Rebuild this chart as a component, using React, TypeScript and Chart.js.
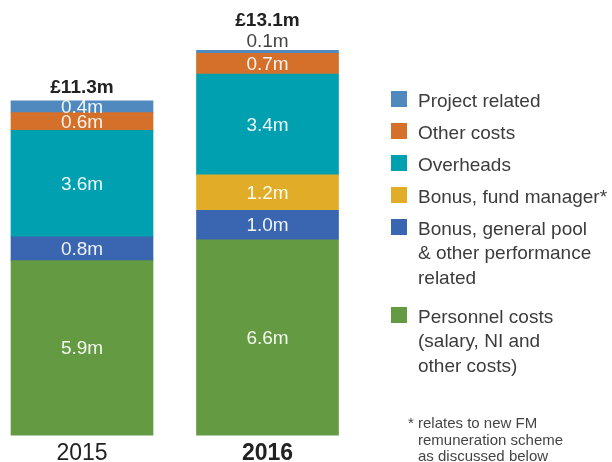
import React, { useEffect, useRef } from "react";
import { Chart, registerables } from "chart.js";

Chart.register(...registerables);

// ---- data ----
const years = ["2015", "2016"];
const totals = ["£11.3m", "£13.1m"];
const personnelCosts = [5.9, 6.6];
const bonusGeneralPool = [0.8, 1.0];
const bonusFundManager = [null, 1.2];
const overheads = [3.6, 3.4];
const otherCosts = [0.6, 0.7];
const projectRelated = [0.4, 0.1];

const seriesNames = [
  "Personnel costs",
  "Bonus, general pool & other performance related",
  "Bonus, fund manager*",
  "Overheads",
  "Other costs",
  "Project related",
];
const seriesColors = ["#639a42", "#3a65b0", "#e1ac28", "#00a0b0", "#d4702a", "#4f89bd"];

// legend rows, top to bottom (index into series)
const legendOrder = [5, 4, 3, 2, 1, 0];
const legendLines = [
  ["Project related"],
  ["Other costs"],
  ["Overheads"],
  ["Bonus, fund manager*"],
  ["Bonus, general pool", "& other performance", "related"],
  ["Personnel costs", "(salary, NI and", "other costs)"],
];
const footnoteLines = ["relates to new FM", "remuneration scheme", "as discussed below"];

const FONT = "'Liberation Sans', Arial, Helvetica, sans-serif";

const labelsPlugin = {
  id: "segmentLabels",
  afterDatasetsDraw(chart: any) {
    const ctx = chart.ctx;
    ctx.save();
    ctx.textAlign = "center";
    ctx.textBaseline = "middle";
    const stackTop: number[] = years.map(() => Infinity);
    const stackX: number[] = years.map(() => 0);
    const above: (string | null)[] = years.map(() => null);
    chart.data.datasets.forEach((ds: any, di: number) => {
      const meta = chart.getDatasetMeta(di);
      meta.data.forEach((el: any, i: number) => {
        const v = ds.data[i];
        if (v == null) return;
        const p = el.getProps(["x", "y", "base"], true);
        stackTop[i] = Math.min(stackTop[i], p.y);
        stackX[i] = p.x;
        const txt = v.toFixed(1) + "m";
        if (p.base - p.y < 8) {
          above[i] = txt;
        } else {
          ctx.font = `19px ${FONT}`;
          ctx.fillStyle = "rgba(255,255,255,0.92)";
          ctx.fillText(txt, p.x, (p.y + p.base) / 2 + 1);
        }
      });
    });
    years.forEach((_, i) => {
      const top = stackTop[i];
      let tTop = top - 13;
      if (above[i]) {
        ctx.font = `19px ${FONT}`;
        ctx.fillStyle = "#444444";
        ctx.fillText(above[i], stackX[i], top - 9);
        tTop = top - 30;
      }
      ctx.font = `bold 19px ${FONT}`;
      ctx.fillStyle = "#222222";
      ctx.fillText(totals[i], stackX[i], tTop);
    });
    ctx.restore();
  },
  afterDraw(chart: any) {
    const ctx = chart.ctx;
    ctx.save();
    const sqX = 391;
    const sq = 16;
    const textX = 418;
    const lineH = 24.5;
    let top = 91;
    ctx.textAlign = "left";
    ctx.textBaseline = "alphabetic";
    legendOrder.forEach((si, r) => {
      const lines = legendLines[r];
      ctx.fillStyle = seriesColors[si];
      ctx.fillRect(sqX, top, sq, sq);
      ctx.font = `19px ${FONT}`;
      ctx.fillStyle = "#3c3c3c";
      lines.forEach((ln, li) => {
        ctx.fillText(ln, textX, top + 15.5 + li * lineH);
      });
      top += 32 + (lines.length - 1) * lineH + (lines.length > 1 ? 7 : 0);
    });
    // footnote
    ctx.font = `15px ${FONT}`;
    ctx.fillStyle = "#444444";
    ctx.fillText("*", 408, 428);
    footnoteLines.forEach((ln, li) => {
      ctx.fillText(ln, textX, 428 + li * 16.5);
    });
    ctx.restore();
  },
};

export default function App() {
  const ref = useRef<HTMLCanvasElement | null>(null);
  useEffect(() => {
    if (!ref.current) return;
    const seriesData = [
      personnelCosts,
      bonusGeneralPool,
      bonusFundManager,
      overheads,
      otherCosts,
      projectRelated,
    ];
    const chart = new Chart(ref.current, {
      type: "bar",
      data: {
        labels: years,
        datasets: seriesData.map((d, i) => ({
          label: seriesNames[i],
          data: d as any,
          backgroundColor: seriesColors[i],
          borderWidth: 0,
          barThickness: 142,
          clip: false as any,
        })),
      },
      options: {
        responsive: false,
        animation: false,
        events: [],
        layout: { padding: { left: 82, right: 344.5, top: 6, bottom: 1 } },
        plugins: { legend: { display: false }, tooltip: { enabled: false } },
        scales: {
          x: {
            stacked: true,
            offset: false,
            grid: { display: false, drawTicks: false },
            border: { display: false },
            ticks: {
              padding: 9.7,
              color: "#222222",
              font: (c: any) => ({
                family: FONT,
                size: 23,
                lineHeight: 0.8,
                weight: c.index === 1 ? "bold" : "normal",
              }),
            },
          },
          y: {
            stacked: true,
            display: false,
            min: 0,
            max: 14.5,
          },
        },
      },
      plugins: [labelsPlugin],
    });
    return () => chart.destroy();
  }, []);
  return (
    <div style={{ position: "absolute", left: 0, top: 0, width: 612, height: 462, overflow: "hidden", background: "#fff" }}>
      <canvas ref={ref} width={612} height={474} style={{ display: "block" }} />
    </div>
  );
}
